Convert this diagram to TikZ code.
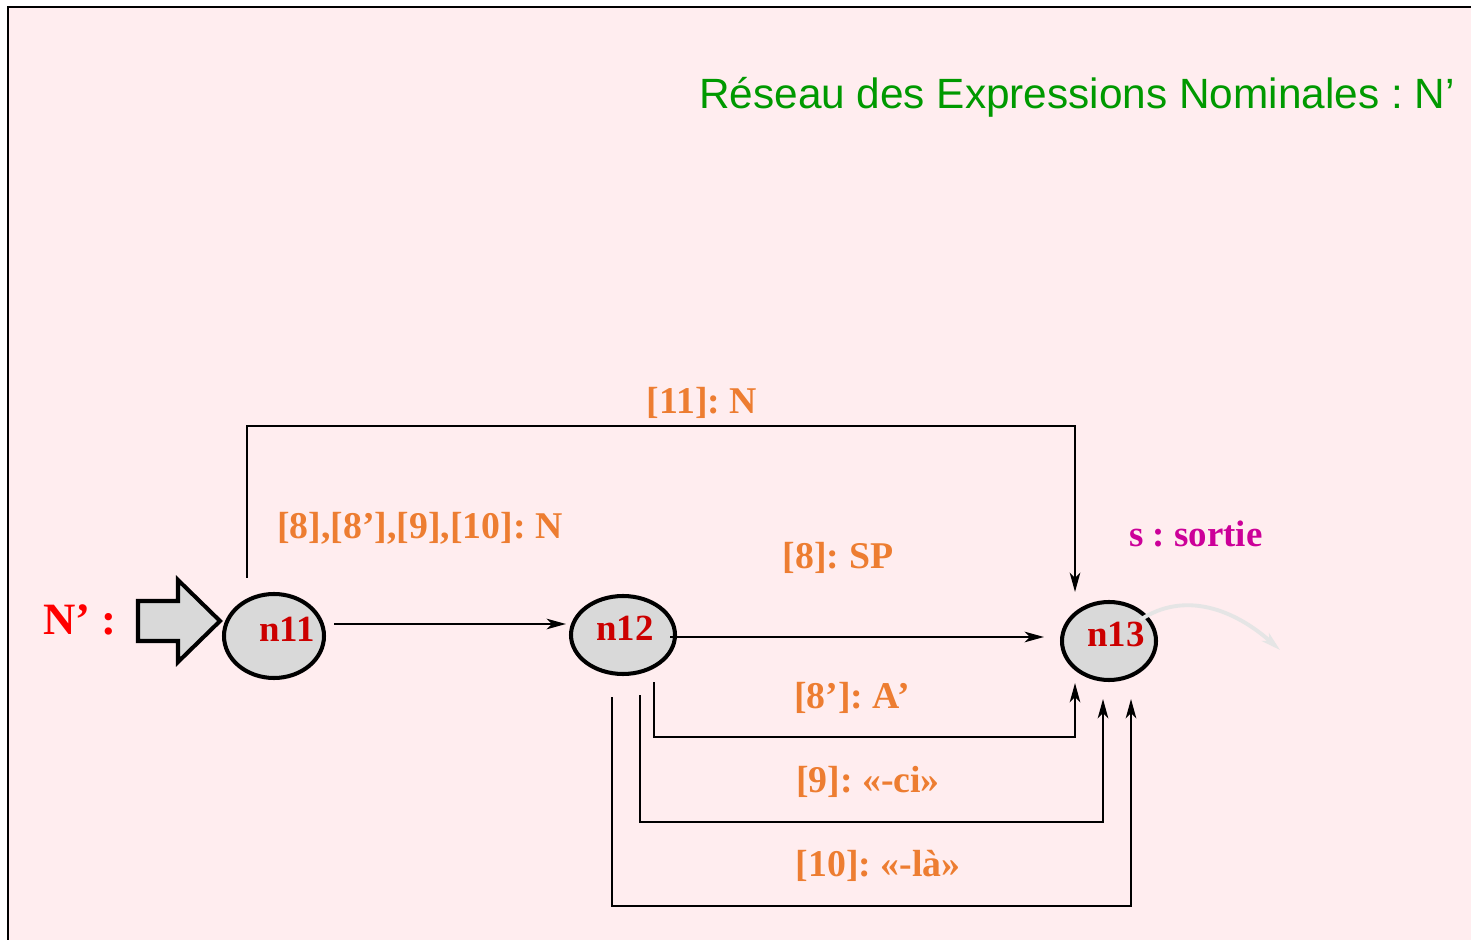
\documentclass[tikz,border=0pt]{standalone}
\usepackage{fontspec}
\setmainfont{Liberation Serif}
\newfontfamily\titlefont{Liberation Sans}
\usepackage{tikz}
\usetikzlibrary{positioning, calc, arrows.meta, shapes.geometric}
\frenchspacing

\definecolor{fondrose}{HTML}{FFEDEF}
\definecolor{titrevert}{HTML}{009900}
\definecolor{arcorange}{HTML}{ED7D31}
\definecolor{etatrouge}{HTML}{CC0000}
\definecolor{sortiemag}{HTML}{CC0099}
\definecolor{grisnoeud}{HTML}{D9D9D9}

\begin{document}
\begin{tikzpicture}
    [x=0.2mm, y=-0.2mm, >={Stealth[length=11pt, width=6pt, inset=3pt]},
    etatnode/.style={ellipse, draw=black, line width=2.3pt, fill=grisnoeud, inner sep=0pt},
    etatlabel/.style={text=etatrouge, font=\bfseries\fontsize{21}{21}\selectfont},
    arcline/.style={->, line width=1.4pt},
    arclabel/.style={text=arcorange, font=\bfseries\fontsize{21.5}{22}\selectfont},]

    \useasboundingbox (0,0) rectangle (1471,940);
    \draw[fill=fondrose, line width=1.2pt] (8,7) rectangle (1490,960);

    %Nodes
    \node[etatnode, minimum width=100*0.2mm, minimum height=84*0.2mm,
        label={[etatlabel, xshift=13*0.2mm, yshift=7*0.2mm]center:n11}] (n11) at (274,636) {};
    \node[etatnode, minimum width=104*0.2mm, minimum height=78*0.2mm,
        label={[etatlabel, xshift=2*0.2mm, yshift=7*0.2mm]center:n12}] (n12) at (623,635) {};
    \node[etatnode, minimum width=94*0.2mm, minimum height=78*0.2mm,
        label={[etatlabel, xshift=7*0.2mm, yshift=7*0.2mm]center:n13}] (n13) at (1109,641) {};

    \node[text=titrevert, font=\titlefont\fontsize{24.1}{25}\selectfont, anchor=east] (titre) at (1461,97)
        {Réseau des Expressions Nominales : N’};
    \node[text=red, font=\bfseries\fontsize{25.5}{26}\selectfont] (entree) at (80,620) {N’ :};
    \draw[fill=grisnoeud, line width=2.3pt, line join=miter]
        (138,601) -- (178,601) -- (178,580) -- (220,621) -- (178,662) -- (178,641) -- (138,641) -- cycle;

    %Lines
    \draw[arcline] ($(n11.east)+(8,-12)$) -- ($(n12.west)+(-3,-11)$);
    \draw[arcline] ($(n12.east)+(-7,2)$) -- ($(n13.west)+(-16,-4)$);

    \draw[arcline] ($(n11.north)+(-27,-14)$) -- ++(0,-152) -| ($(n13.north)+(-34,-8)$);
    \draw[arcline] ($(n12.south)+(31,6)$) -- ++(0,55) -| ($(n13.south)+(-34,1)$);
    \draw[arcline] ($(n12.south)+(17,19)$) -- ++(0,127) -| ($(n13.south)+(-6,17)$);
    \draw[arcline] ($(n12.south)+(-11,21)$) -- ++(0,209) -| ($(n13.south)+(22,17)$);

    \draw[->, draw=black!10, line width=2.2pt] ($(n13.center)+(31,-21)$)
        .. controls (1185,590) and (1235,610) .. (1280,650);

    %Labels
    \node[arclabel] (l11) at (702,403) {[11]: N};
    \node[arclabel] (l1112) at (420,528) {[8],[8’],[9],[10]: N};
    \node[arclabel] (l8) at (838,558) {[8]: SP};
    \node[arclabel] (l8p) at (852,698) {[8’]: A’};
    \node[arclabel] (l9) at (868,782) {[9]: «-ci»};
    \node[arclabel] (l10) at (878,866) {[10]: «-là»};
    \node[text=sortiemag, font=\bfseries\fontsize{21}{21}\selectfont] (sortie) at (1196,534) {s : sortie};

\end{tikzpicture}
\end{document}
